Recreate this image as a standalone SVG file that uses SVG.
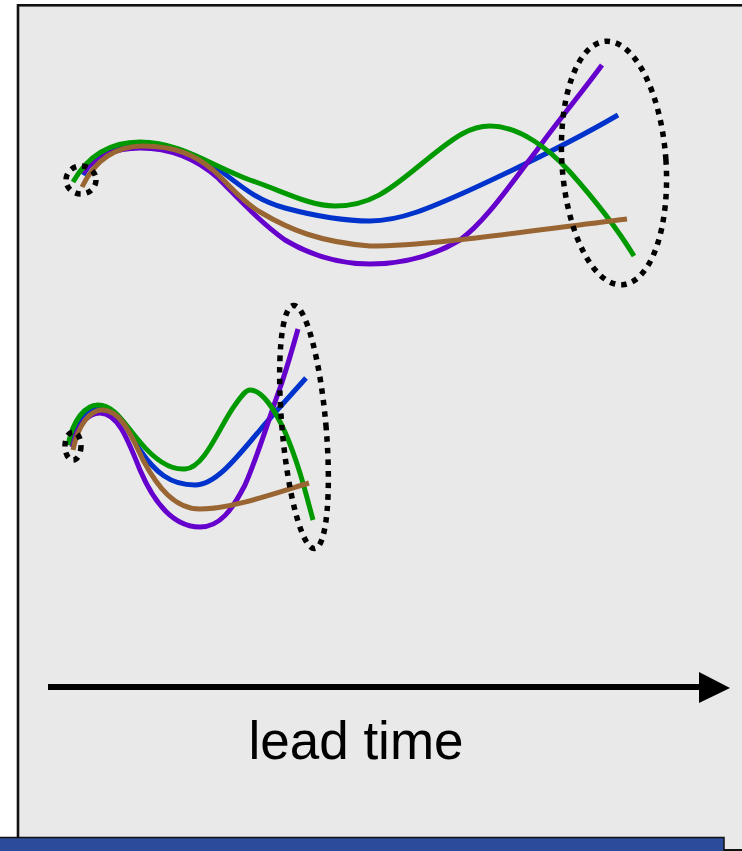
<svg xmlns="http://www.w3.org/2000/svg" width="742" height="851" viewBox="0 0 742 851">
<style>
.c{fill:none;stroke-width:5;stroke-linecap:butt;stroke-linejoin:round}
.g{stroke:#009900}.b{stroke:#0033cc}.br{stroke:#996633}.p{stroke:#6600cc}
.dot{fill:none;stroke:#000;stroke-width:5.5;stroke-dasharray:5.5 6}
.lbl{font-family:"Liberation Sans",Arial,sans-serif;font-size:53px;fill:#000}
</style>
<g id="panel">
<rect x="18" y="5.3" width="740" height="845" fill="#e9e9e9" stroke="#111" stroke-width="2.6"/>
</g>
<g id="upper-ensemble">
<path class="c b" d="M83,175 C95,152 115,145 140,145 C175,145 195,155 213,165 C240,185 255,200 285,208 C315,216 345,221 370,221 C400,221 430,208 470,190 C520,167 570,143 618,115"/>
<path class="c p" d="M83,173 C95,157 115,148 140,148 C175,148 200,162 218,178 C240,200 260,222 285,240 C315,258 345,264 370,264 C400,264 430,258 460,240 C485,222 510,185 537,150 C560,118 580,95 602,65"/>
<path class="c g" d="M73,182 C90,152 115,142 140,142 C180,142 210,165 250,180 C285,192 310,206 335,206 C375,206 395,185 430,157 C455,137 470,126 490,126 C520,126 550,150 570,172 C595,200 615,225 634,256"/>
<path class="c br" d="M82,187 C95,160 115,146 143,146 C175,146 195,155 213,170 C230,185 240,200 260,212 C290,230 320,242 370,246 C430,246 520,232 627,219"/>
</g>
<g id="upper-start">
<ellipse class="dot" cx="81" cy="180" rx="15" ry="14"/>
</g>
<g id="upper-end">
<ellipse class="dot" cx="614" cy="163" rx="52" ry="122" transform="rotate(-4 614 163)"/>
</g>
<g id="lower-ensemble">
<path class="c b" d="M70,442 C75,420 87,407 100,407 C118,407 128,430 140,450 C155,472 170,485 195,485 C215,485 235,460 260,430 C275,412 290,396 306,378"/>
<path class="c p" d="M72,447 C77,425 88,413 100,413 C118,413 128,440 140,470 C155,505 175,527 200,527 C220,527 232,510 245,485 C260,450 270,415 280,388 C287,368 292,350 298,329"/>
<path class="c g" d="M68,445 C73,420 85,405 98,405 C115,405 125,425 140,442 C155,460 170,470 185,469 C205,468 220,425 235,405 C242,395 246,390 250,390 C262,390 275,410 285,432 C298,462 305,490 313,520"/>
<path class="c br" d="M73,450 C78,425 90,410 102,410 C120,410 130,432 143,460 C158,488 175,509 200,509 C230,509 270,495 309,483"/>
</g>
<g id="lower-start">
<ellipse class="dot" cx="73" cy="446" rx="8" ry="14"/>
</g>
<g id="lower-end">
<ellipse class="dot" cx="304" cy="427" rx="22" ry="122" transform="rotate(-5 304 427)"/>
</g>
<g id="connectors">
<line x1="48" y1="687" x2="701" y2="687" stroke="#000" stroke-width="6"/>
<polygon points="699,672 730,688 699,703" fill="#000"/>
</g>
<g id="axis-label">
<text class="lbl" x="356" y="759" text-anchor="middle">lead time</text>
</g>
<g id="footer-bar">
<rect x="-2" y="837.5" width="726" height="20" fill="#2b4c9b" stroke="#111" stroke-width="1.5"/>
</g>
</svg>
